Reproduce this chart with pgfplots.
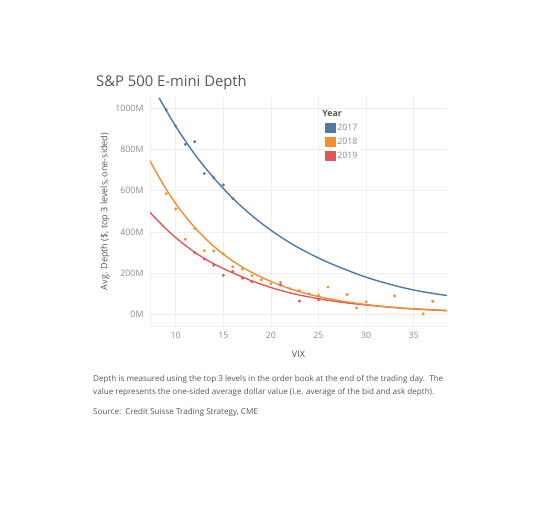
\documentclass[border=0pt]{standalone}
\usepackage{pgfplots}
\pgfplotsset{compat=1.18}
\usepackage{fontspec}
\setmainfont{Open Sans}
\definecolor{c17}{HTML}{4E79A7}
\definecolor{c18}{HTML}{F28E2B}
\definecolor{c19}{HTML}{E15759}
\definecolor{gridc}{HTML}{EEEEEE}
\definecolor{tickc}{HTML}{8A8A8A}
\definecolor{labc}{HTML}{555555}
\begin{document}
\begin{tikzpicture}
\useasboundingbox (0pt,0pt) rectangle (560pt,-508pt);
\begin{axis}[
  at={(150pt,-326pt)}, anchor=south west,
  scale only axis, width=297pt, height=229pt,
  xmin=7.3, xmax=38.5, ymin=-57, ymax=1055,
  xtick={10,15,20,25,30,35},
  xticklabels={10,15,20,25,30,35},
  ytick={0,200,400,600,800,1000},
  yticklabels={0M,200M,400M,600M,800M,1000M},
  major tick length=0pt,
  grid=major, major grid style={gridc, line width=0.6pt},
  axis x line*=bottom, axis y line*=left,
  axis line style={gridc, line width=0.6pt},
  tick label style={font=\fontsize{8.8}{10}\selectfont, text=tickc},
  xticklabel style={yshift=-3pt},
  yticklabel style={xshift=-3pt},
  xlabel={VIX}, xlabel style={font=\fontsize{9}{10}\selectfont, text=labc, yshift=-5pt},
  ylabel={Avg. Depth (\$, top 3 levels, one-sided)},
  ylabel style={font=\fontsize{9}{10}\selectfont, text=labc, yshift=-1pt},
  clip=true,
  legend style={at={(0.585,0.947)}, anchor=north west, draw=none, fill=white,
    font=\fontsize{8.8}{10}\selectfont, text=tickc, row sep=4.5pt, inner sep=1pt,
    legend cell align=left, nodes={inner xsep=2pt, inner ysep=0pt}},
  legend image code/.code={\fill[#1] (0pt,-4.3pt) rectangle (10pt,5pt);},
]
% trend lines
\addplot[forget plot, c17, line width=1.4pt, smooth] coordinates {
(8.25,1051)(10,913)(12,777)(14,662)(16,563)(18,479)(20,408)(22,347)(24,296)(26,252)(28,214)(30,180)(32,152)(34,128)(36,109)(38.5,91)};
\addplot[forget plot, c19, line width=1.4pt, smooth] coordinates {
(7.3,495)(8,460)(9,414)(10,372)(11,335)(12,301)(13,271)(14,245)(15,222)(16,201)(18,162)(20,130)(22,104)(24,84)(26,68)(28,55)(30,45)(32,36)(34,29)(36,24)(38.5,18)};
\addplot[forget plot, c18, line width=1.4pt, smooth] coordinates {
(7.3,745)(8,686)(9,607)(10,537)(11,476)(12,421)(13,373)(14,330)(15,292)(16,258)(17,229)(18,203)(20,159)(22,124)(24,97)(26,76)(28,60)(30,47)(32,37)(34,29)(36,23)(38.5,17)};
% data points
\addplot[forget plot, only marks, mark=*, mark size=1.3pt, c17] coordinates {
(9,992)(10,914)(11,825)(12,838)(13,683)(14,663)(15,628)(16,563)};
\addplot[forget plot, only marks, mark=*, mark size=1.3pt, c18] coordinates {
(9,585)(10,511)(11,364)(12,417)(13,309)(14,307)(15,293)(16,231)(17,220)(18,187)(19,167)(20,147)(21,155)(22,124)(23,115)(24,99)(25,93)(26,132)(28,96)(29,31)(30,60)(33,89)(36,2)(37,63)};
\addplot[forget plot, only marks, mark=*, mark size=1.3pt, c19] coordinates {
(12,299)(13,268)(14,238)(15,189)(16,207)(17,175)(18,158)(21,143)(23,64)(25,70)};
\addlegendimage{empty legend}
\addlegendentry{\hspace{-15pt}\textcolor{labc}{\bfseries Year}}
\addlegendimage{c17}
\addlegendentry{2017}
\addlegendimage{c18}
\addlegendentry{2018}
\addlegendimage{c19}
\addlegendentry{2019}
\end{axis}
\node[anchor=base west, inner sep=0pt, font=\fontsize{14.8}{16}\selectfont, text=labc] at (96pt,-87pt) {S\&P 500 E-mini Depth};
\node[anchor=base west, inner sep=0pt, font=\fontsize{8.1}{9}\selectfont, text=labc] at (93pt,-381pt) {Depth is measured using the top 3 levels in the order book at the end of the trading day.\ \ The};
\node[anchor=base west, inner sep=0pt, font=\fontsize{8.1}{9}\selectfont, text=labc] at (93pt,-394pt) {value represents the one-sided average dollar value (i.e. average of the bid and ask depth).};
\node[anchor=base west, inner sep=0pt, font=\fontsize{8.1}{9}\selectfont, text=labc] at (93pt,-414pt) {Source:\ \ Credit Suisse Trading Strategy, CME};
\end{tikzpicture}
\end{document}
